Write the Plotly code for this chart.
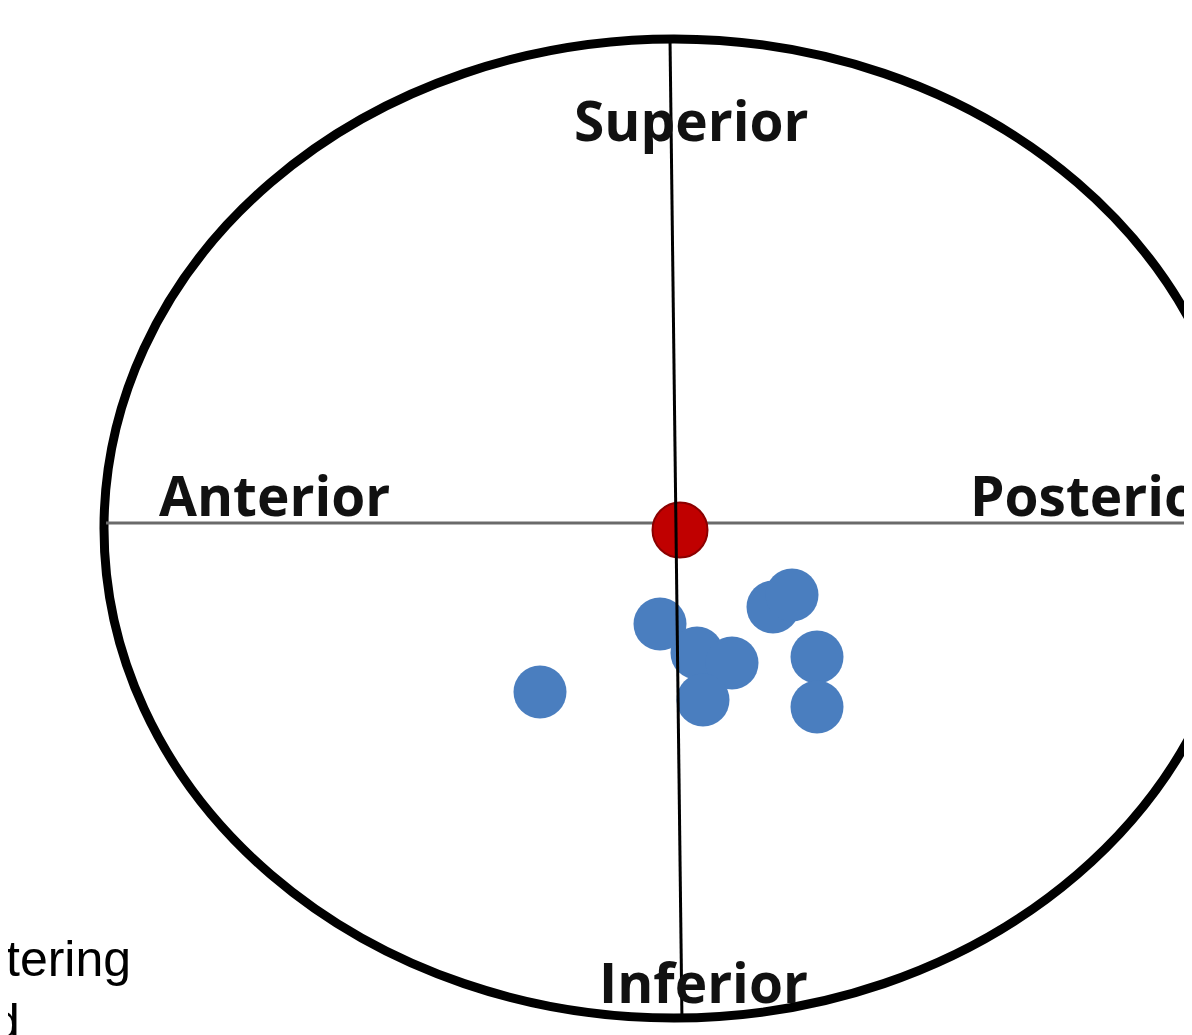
import plotly.graph_objects as go

# Data (units: hundreds of pixels relative to the axis crossing)
blue_x = [-1.36, -0.16, 0.21, 0.56, 0.27, 0.97, 1.16, 1.41, 1.41]
blue_y = [-1.69, -1.01, -1.30, -1.40, -1.77, -0.84, -0.72, -1.34, -1.84]
red_x = [0.04]
red_y = [-0.07]

labels = ["Superior", "Anterior", "Posterior", "Inferior"]
label_x = [-1.04, -5.19, 2.92, -0.79]
label_y = [4.04, 0.29, 0.29, -4.58]

# body margin of the html page offsets the figure by 8px
OFF = 8

fig = go.Figure()

fig.add_trace(go.Scatter(x=blue_x, y=blue_y, mode="markers",
                         marker=dict(size=53, color="#4A7EBF", line=dict(width=0)),
                         showlegend=False, hoverinfo="skip"))
fig.add_trace(go.Scatter(x=red_x, y=red_y, mode="markers",
                         marker=dict(size=55, color="#C00000", line=dict(width=2, color="#8B0000")),
                         showlegend=False, hoverinfo="skip"))

shapes = [
    dict(type="circle", xref="x", yref="y", x0=-5.72, x1=5.68, y0=-4.95, y1=4.84,
         line=dict(color="black", width=9), layer="below"),
    dict(type="line", xref="x", yref="y", x0=-5.70, x1=5.3, y0=0.0, y1=0.0,
         line=dict(color="#6a6a6a", width=3), layer="below"),
    dict(type="line", xref="x", yref="y", x0=-0.06, x1=0.06, y0=4.85, y1=-4.99,
         line=dict(color="black", width=3), layer="above"),
]

annotations = []
for t, x, y in zip(labels, label_x, label_y):
    annotations.append(dict(text="<b>%s</b>" % t, x=x, y=y, xref="x", yref="y",
                            showarrow=False, xanchor="left", yanchor="middle",
                            font=dict(family="Open Sans", size=55, color="#111111")))
annotations.append(dict(text="tering", x=(133 - OFF)/1192, y=1-(959 - OFF)/1035, xref="paper", yref="paper",
                        showarrow=False, xanchor="right", yanchor="middle",
                        font=dict(family="Liberation Sans, Arial", size=50, color="black")))
annotations.append(dict(text="d", x=(22 - OFF)/1192, y=1-(1022 - OFF)/1035, xref="paper", yref="paper",
                        showarrow=False, xanchor="right", yanchor="middle",
                        font=dict(family="Liberation Sans, Arial", size=50, color="black")))

fig.update_layout(
    width=1192, height=1035,
    margin=dict(l=0, r=0, t=0, b=0),
    paper_bgcolor="white", plot_bgcolor="white",
    xaxis=dict(range=[-6.68, 5.24], visible=False, fixedrange=True),
    yaxis=dict(range=[-5.20, 5.15], visible=False, fixedrange=True),
    shapes=shapes, annotations=annotations,
)

fig.write_html("out.html")
